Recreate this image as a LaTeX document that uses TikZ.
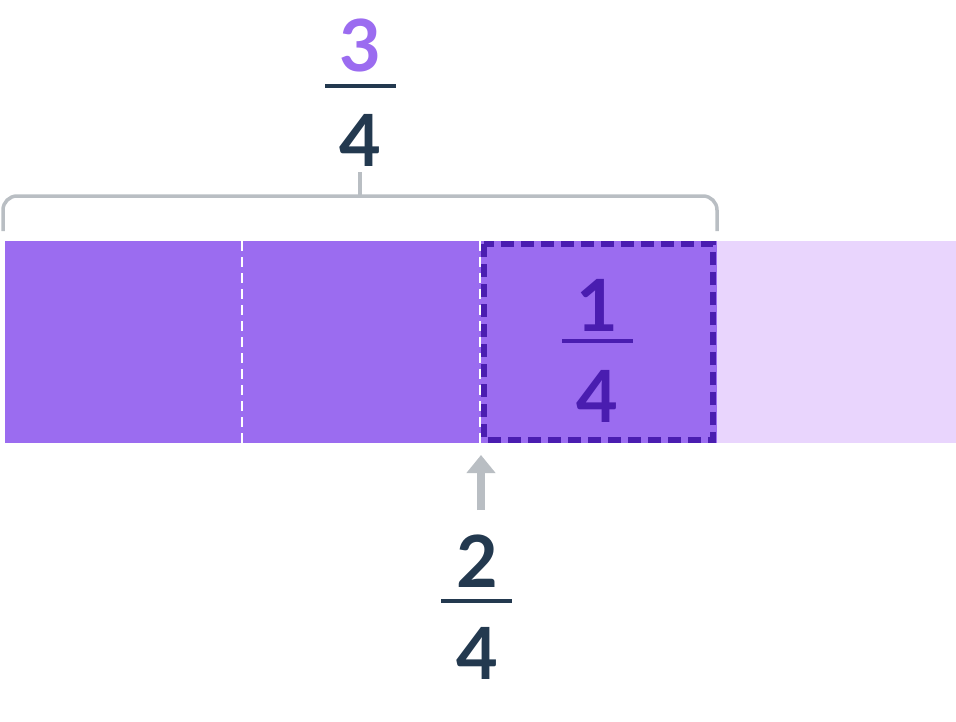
\documentclass[tikz,border=0pt]{standalone}
\usepackage{fontspec}
\setmainfont{Lato}[BoldFont={Lato Bold}]
\usetikzlibrary{positioning,arrows.meta}
\definecolor{barfill}{HTML}{9B6CF0}
\definecolor{pale}{HTML}{E9D5FD}
\definecolor{deep}{HTML}{4A1DB0}
\definecolor{ink}{HTML}{23394F}
\definecolor{grey}{HTML}{B9BEC3}
\begin{document}
\begin{tikzpicture}[x=1pt,y=-1pt,
    digit/.style = {font=\fontsize{72}{72}\selectfont\bfseries, inner sep=0pt},
    rule/.style = {line width=4pt}
  ]
  \useasboundingbox (0,0) rectangle (956,721);
  % bar
  \fill [barfill] (5,241) rectangle (717,443);
  \fill [pale] (717,241) rectangle (956,443);
  \draw [white, line width=2.5pt, dash pattern=on 10pt off 6pt] (242,241) -- (242,443);
  \draw [white, line width=2.5pt, dash pattern=on 10pt off 6pt] (480,241) -- (480,443);
  \draw [deep, line width=5.5pt, dash pattern=on 13pt off 7pt] (484,244) rectangle (713,440);
  % brace
  \draw [grey, line width=3.5pt, rounded corners=14pt] (3,231) -- (3,196) -- (717,196) -- (717,231);
  \draw [grey, line width=3.5pt] (360,196) -- (360,172);
  % three quarters
  \node [digit, text=barfill] (n3) at (360,45) {3};
  \node [digit, text=ink] (d3) at (360,140) {4};
  \draw [ink, rule] (325,86) -- (396,86);
  % one quarter
  \node [digit, text=deep] (n1) at (597,305) {1};
  \node [digit, text=deep] (d1) at (597,396) {4};
  \draw [deep, rule] (562,341) -- (633,341);
  % two quarters
  \node [digit, text=ink] (n2) at (477,561) {2};
  \node [digit, text=ink] (d2) at (477,653) {4};
  \draw [ink, rule] (441,601) -- (512,601);
  \coordinate (tail) at (481,510);
  \coordinate (tip) at (481,455);
  \draw [grey, line width=8pt, -{Triangle[length=18pt,width=28pt]}] (tail) -- (tip);
\end{tikzpicture}
\end{document}
